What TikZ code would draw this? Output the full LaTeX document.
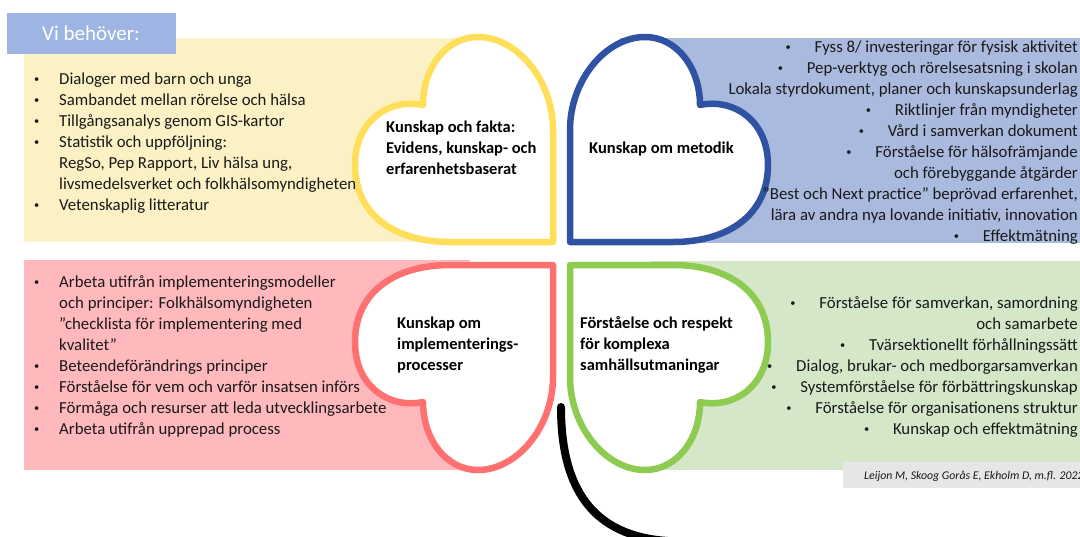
\documentclass[tikz,border=0pt]{standalone}
\usepackage{fontspec}
\setmainfont{Carlito}
\definecolor{ylwbg}{RGB}{252,241,196}
\definecolor{blubg}{RGB}{170,186,222}
\definecolor{pnkbg}{RGB}{255,185,188}
\definecolor{grnbg}{RGB}{212,231,200}
\definecolor{ylwH}{RGB}{255,222,90}
\definecolor{bluH}{RGB}{47,83,162}
\definecolor{pnkH}{RGB}{255,112,112}
\definecolor{grnH}{RGB}{141,204,80}
\definecolor{vibg}{RGB}{158,181,227}
\definecolor{citbg}{RGB}{230,230,230}
\definecolor{txt}{RGB}{25,25,25}
\newcommand{\bdt}{\raisebox{1.4pt}{\scalebox{0.62}{•}}}
\newcommand{\bl}{\makebox[25pt][l]{\bdt}}
\newcommand{\cn}{\hspace*{25pt}}
\newcommand{\rb}{\makebox[29pt][l]{\bdt}}
\begin{document}
\begin{tikzpicture}[x=1pt,y=-1pt,
  lst/.style={font=\fontsize{16.8}{21}\selectfont, text=txt, inner sep=0pt},
  lbl/.style={font=\fontsize{16.5}{21}\selectfont\bfseries, text=black, inner sep=0pt, anchor=base west},
  hline/.style={line width=6.5pt, fill=white, line join=round},
  hrt/.style={insert path={(553,242) -- (553,130) .. controls (553,80) and (517,37) .. (478,37) .. controls (446,37) and (423,68) .. (423,105) .. controls (390,98) and (355,120) .. (355,165) .. controls (355,215) and (395,242) .. (450,242) -- cycle}},
  stemline/.style={line width=8pt, line cap=round, draw=black}
]
\useasboundingbox (0,0) rectangle (1080,536);
\clip (0,0) rectangle (1080,536);

% background panels
\fill[ylwbg] (24,38) rectangle (500,242);
\fill[blubg] (620,38) rectangle (1080,243);
\fill[pnkbg] (24,260) rectangle (470,470);
\fill[grnbg] (650,261) rectangle (1080,470);

% title box
\node[fill=vibg, anchor=north west, minimum width=169pt, minimum height=41pt, inner sep=0pt] (vibox) at (7,13) {};
\node[font=\fontsize{21}{25}\selectfont, text=white, anchor=base west, inner sep=0pt] (vitxt) at (42,40) {Vi behöver:};

% hearts
\path[hline, draw=ylwH, hrt];
\begin{scope}[shift={(1123,0)}, xscale=-1]
\path[hline, draw=bluH, hrt];
\end{scope}
\begin{scope}[shift={(0,507)}, yscale=-1]
\path[hline, draw=pnkH, hrt];
\end{scope}
\begin{scope}[shift={(1123,507)}, xscale=-1, yscale=-1]
\path[hline, draw=grnH, hrt];
\end{scope}

% stem
\coordinate (stemtop) at (561,407);
\coordinate (stemend) at (668,541);
\draw[stemline] (stemtop) .. controls (561,488) and (592,536) .. (stemend);

% yellow list
\foreach \t [count=\i] in {
 {\bl Dialoger med barn och unga},
 {\bl Sambandet mellan rörelse och hälsa},
 {\bl Tillgångsanalys genom GIS-kartor},
 {\bl Statistik och uppföljning:},
 {\cn RegSo, Pep Rapport, Liv hälsa ung,},
 {\cn livsmedelsverket och folkhälsomyndigheten},
 {\bl Vetenskaplig litteratur}}
 \node[lst, anchor=base west] (yl\i) at (34,{63+21*\i}) {\t};

% blue list
\foreach \t [count=\i] in {
 {\rb Fyss 8/ investeringar för fysisk aktivitet},
 {\rb Pep-verktyg och rörelsesatsning i skolan},
 {Lokala styrdokument, planer och kunskapsunderlag},
 {\rb Riktlinjer från myndigheter},
 {\rb Vård i samverkan dokument},
 {\rb Förståelse för hälsofrämjande},
 {och förebyggande åtgärder},
 {”Best och Next practice” beprövad erfarenhet,},
 {lära av andra nya lovande initiativ, innovation},
 {\rb Effektmätning}}
 \node[lst, anchor=base east] (bl\i) at (1078,{31+21*\i}) {\t};

% pink list
\foreach \t [count=\i] in {
 {\bl Arbeta utifrån implementeringsmodeller},
 {\cn och principer: Folkhälsomyndigheten},
 {\cn ”checklista för implementering med},
 {\cn kvalitet”},
 {\bl Beteendeförändrings principer},
 {\bl Förståelse för vem och varför insatsen införs},
 {\bl Förmåga och resurser att leda utvecklingsarbete},
 {\bl Arbeta utifrån upprepad process}}
 \node[lst, anchor=base west] (pl\i) at (34,{266+21*\i}) {\t};

% green list
\foreach \t [count=\i] in {
 {\rb Förståelse för samverkan, samordning},
 {och samarbete},
 {\rb Tvärsektionellt förhållningssätt},
 {\rb Dialog, brukar- och medborgarsamverkan},
 {\rb Systemförståelse för förbättringskunskap},
 {\rb Förståelse för organisationens struktur},
 {\rb Kunskap och effektmätning}}
 \node[lst, anchor=base east] (gl\i) at (1078,{287+21*\i}) {\t};

% heart labels
\node[lbl] (ya) at (386,132) {Kunskap och fakta:};
\node[lbl] (yb) at (386,153) {Evidens, kunskap- och};
\node[lbl] (yc) at (386,174) {erfarenhetsbaserat};
\node[lbl] (ba) at (589,153) {Kunskap om metodik};
\node[lbl] (pa) at (397,328) {Kunskap om};
\node[lbl] (pb) at (397,349) {implementerings-};
\node[lbl] (pc) at (397,370) {processer};
\node[lbl] (ga) at (580,328) {Förståelse och respekt};
\node[lbl] (gb) at (580,349) {för komplexa};
\node[lbl] (gc) at (580,370) {samhällsutmaningar};

% citation
\node[fill=citbg, anchor=north west, minimum width=245pt, minimum height=26pt, inner sep=0pt] (citbox) at (843,462) {};
\node[font=\fontsize{11.8}{14}\selectfont\itshape, text=txt, anchor=base west, inner sep=0pt] (cit) at (864,479) {Leijon M, Skoog Gorås E, Ekholm D, m.fl. 2022};
\end{tikzpicture}
\end{document}
